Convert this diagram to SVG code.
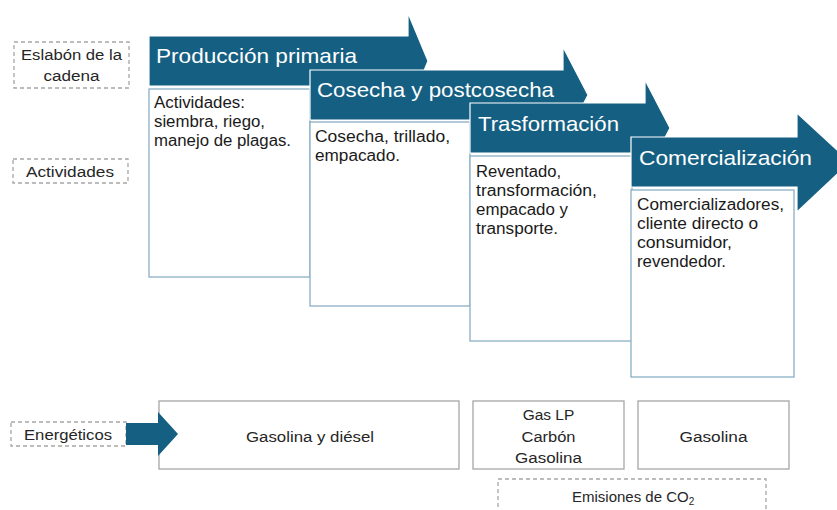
<svg xmlns="http://www.w3.org/2000/svg" width="837" height="510" viewBox="0 0 837 510">
<style>
.arr{fill:#156082;stroke:#ffffff;stroke-width:1.2}
.box{fill:#ffffff;stroke:#8aaec4;stroke-width:1.3}
.gbox{fill:#ffffff;stroke:#a6a6a6;stroke-width:1.3}
.dash{fill:#ffffff;stroke:#a6a6a6;stroke-width:1.3;stroke-dasharray:4 3}
.hd{font-family:"Liberation Sans",Arial,sans-serif;font-size:21px;fill:#ffffff}
.bt{font-family:"Liberation Sans",Arial,sans-serif;font-size:16px;fill:#1a1a1a}
.lb{font-family:"Liberation Sans",Arial,sans-serif;font-size:15.5px;fill:#262626}
.ct{text-anchor:middle}
</style>
<rect width="837" height="510" fill="#ffffff"/>

<g id="label-eslabon">
<rect class="dash" x="14" y="42" width="115" height="46"/>
<text class="lb ct" x="71.5" y="60" textLength="101" lengthAdjust="spacingAndGlyphs">Eslabón de la</text>
<text class="lb ct" x="71.5" y="81" textLength="56" lengthAdjust="spacingAndGlyphs">cadena</text>
</g>
<g id="label-actividades">
<rect class="dash" x="13" y="159" width="115" height="24"/>
<text class="lb ct" x="70" y="177" textLength="88" lengthAdjust="spacingAndGlyphs">Actividades</text>
</g>

<g id="stage1">
<path class="arr" d="M149,36 H408 V13 L428,61 L408,109 V86 H149 Z"/>
<text class="hd" x="156" y="63" textLength="201" lengthAdjust="spacingAndGlyphs">Producción primaria</text>
<rect class="box" x="149" y="89" width="161" height="188"/>
<text class="bt" x="154" y="108" textLength="91" lengthAdjust="spacingAndGlyphs">Actividades:</text>
<text class="bt" x="154" y="127" textLength="111" lengthAdjust="spacingAndGlyphs">siembra, riego,</text>
<text class="bt" x="154" y="146" textLength="137" lengthAdjust="spacingAndGlyphs">manejo de plagas.</text>
</g>

<g id="stage2">
<path class="arr" d="M310,70 H563 V47 L588,95 L563,143 V120 H310 Z"/>
<text class="hd" x="317" y="97" textLength="237" lengthAdjust="spacingAndGlyphs">Cosecha y postcosecha</text>
<rect class="box" x="310" y="122" width="160" height="184"/>
<text class="bt" x="315" y="142" textLength="135" lengthAdjust="spacingAndGlyphs">Cosecha, trillado,</text>
<text class="bt" x="315" y="161" textLength="85" lengthAdjust="spacingAndGlyphs">empacado.</text>
</g>

<g id="stage3">
<path class="arr" d="M470,103 H645 V80 L670,128 L645,176 V153 H470 Z"/>
<text class="hd" x="478" y="131" textLength="141" lengthAdjust="spacingAndGlyphs">Trasformación</text>
<rect class="box" x="470" y="156" width="162" height="185"/>
<text class="bt" x="476" y="177" textLength="85" lengthAdjust="spacingAndGlyphs">Reventado,</text>
<text class="bt" x="476" y="196" textLength="121" lengthAdjust="spacingAndGlyphs">transformación,</text>
<text class="bt" x="476" y="215" textLength="92" lengthAdjust="spacingAndGlyphs">empacado y</text>
<text class="bt" x="476" y="234" textLength="82" lengthAdjust="spacingAndGlyphs">transporte.</text>
</g>

<g id="stage4">
<path class="arr" d="M631,137 H797 V113 L850,162 L797,212 V187 H631 Z"/>
<text class="hd" x="639" y="165" textLength="173" lengthAdjust="spacingAndGlyphs">Comercialización</text>
<rect class="box" x="631" y="190" width="163" height="187"/>
<text class="bt" x="637" y="210" textLength="147" lengthAdjust="spacingAndGlyphs">Comercializadores,</text>
<text class="bt" x="637" y="229" textLength="121" lengthAdjust="spacingAndGlyphs">cliente directo o</text>
<text class="bt" x="637" y="248" textLength="95" lengthAdjust="spacingAndGlyphs">consumidor,</text>
<text class="bt" x="637" y="267" textLength="89" lengthAdjust="spacingAndGlyphs">revendedor.</text>
</g>

<g id="label-energeticos">
<rect class="dash" x="11" y="422" width="115" height="24"/>
<text class="lb ct" x="68" y="440" textLength="88" lengthAdjust="spacingAndGlyphs">Energéticos</text>
</g>

<g id="energy1">
<rect class="gbox" x="159" y="401" width="300" height="68"/>
<text class="lb ct" x="310" y="442" textLength="128" lengthAdjust="spacingAndGlyphs">Gasolina y diésel</text>
</g>
<g id="energy2">
<rect class="gbox" x="473" y="401" width="151" height="68"/>
<text class="lb ct" x="548.5" y="420">Gas LP</text>
<text class="lb ct" x="548.5" y="442" textLength="54" lengthAdjust="spacingAndGlyphs">Carbón</text>
<text class="lb ct" x="548.5" y="463" textLength="67" lengthAdjust="spacingAndGlyphs">Gasolina</text>
</g>
<g id="energy3">
<rect class="gbox" x="638" y="401" width="151" height="68"/>
<text class="lb ct" x="713.5" y="442" textLength="68" lengthAdjust="spacingAndGlyphs">Gasolina</text>
</g>
<g id="emisiones">
<rect class="dash" x="498" y="479" width="268" height="40"/>
<text font-family="Liberation Sans, Arial, sans-serif" font-size="15" fill="#262626" x="572" y="502">Emisiones de CO<tspan font-size="10" dy="3">2</tspan></text>
</g>

<g id="connectors">
<path fill="#156082" d="M126,423 H158 V412 L178,434 L158,456 V445 H126 Z"/>
</g>
</svg>
